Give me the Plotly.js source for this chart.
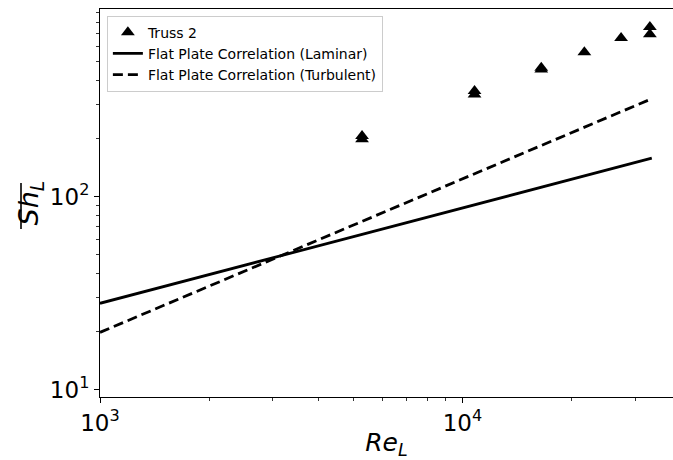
<!DOCTYPE html>
<html>
<head>
<meta charset="utf-8">
<script src="https://cdn.plot.ly/plotly-3.0.1.min.js"></script>
<style>
html,body{margin:0;padding:0;background:#fff;}
#chart{width:673px;height:460px;}
</style>
</head>
<body>
<div id="chart"></div>
<script>
// Truss 2 measurements
const reTruss = [5285, 5285, 10800, 10800, 16500, 16500, 21700, 27400, 32900, 32900];
const shTruss = [206, 198, 352, 338, 464, 455, 559, 661, 755, 692];

// Flat plate correlation lines (end points, straight in log-log)
const reLine = [1000, 33300];
const shLaminar = [28.0, 158];
const shTurbulent = [19.8, 321];

// Axis ticks
const xMajor = [1000, 10000];
const xMajorText = ['10<sup>3</sup>', '10<sup>4</sup>'];
const xMinor = [2000, 3000, 4000, 5000, 6000, 7000, 8000, 9000, 20000, 30000];
const yMajor = [10, 100];
const yMajorText = ['10<sup>1</sup>', '10<sup>2</sup>'];
const yMinor = [20, 30, 40, 50, 60, 70, 80, 90, 200, 300, 400, 500, 600, 700, 800, 900];

const font = 'DejaVu Sans, sans-serif';

const traces = [
  {
    x: reTruss, y: shTruss, type: 'scatter', mode: 'markers', name: 'Truss 2',
    marker: {symbol: 'triangle-up', size: 12, color: '#000'}
  },
  {
    x: reLine, y: shLaminar, type: 'scatter', mode: 'lines',
    name: 'Flat Plate Correlation (Laminar)',
    line: {color: '#000', width: 2.8}
  },
  {
    x: reLine, y: shTurbulent, type: 'scatter', mode: 'lines',
    name: 'Flat Plate Correlation (Turbulent)',
    line: {color: '#000', width: 2.8, dash: '10px,5px'}
  }
];

// plot area: left 100px, width 573px; top 9px, height 388px
const px2paperX = px => (px - 100) / 573;
const px2paperY = py => (397 - py) / 388;

const layout = {
  width: 673, height: 460,
  margin: {l: 100, r: 0, t: 9, b: 63},
  paper_bgcolor: '#fff', plot_bgcolor: '#fff',
  showlegend: true,
  font: {family: font, color: '#000'},
  legend: {
    x: 0.012, y: 0.983, xanchor: 'left', yanchor: 'top',
    bgcolor: 'rgba(255,255,255,0.8)', bordercolor: '#cccccc', borderwidth: 1,
    font: {family: font, size: 14, color: '#000'},
    tracegroupgap: 0, itemwidth: 30
  },
  xaxis: {
    type: 'log', range: [3, 4.581],
    tickmode: 'array', tickvals: xMajor, ticktext: xMajorText,
    ticks: 'outside', ticklen: 5, tickwidth: 1, tickcolor: '#000',
    minor: {tickmode: 'array', tickvals: xMinor, ticks: 'outside', ticklen: 3, tickwidth: 0.8, tickcolor: '#000', showgrid: false},
    showgrid: false, zeroline: false,
    showline: true, linecolor: '#000', linewidth: 1, mirror: true,
    tickfont: {family: font, size: 23, color: '#000'},
    title: {text: '<i>Re</i><sub><i>L</i></sub>', font: {family: font, size: 25, color: '#000'}, standoff: 4},
    automargin: false
  },
  yaxis: {
    type: 'log', range: [0.962, 2.971],
    tickmode: 'array', tickvals: yMajor, ticktext: yMajorText,
    ticks: 'outside', ticklen: 5, tickwidth: 1, tickcolor: '#000',
    minor: {tickmode: 'array', tickvals: yMinor, ticks: 'outside', ticklen: 3, tickwidth: 0.8, tickcolor: '#000', showgrid: false},
    showgrid: false, zeroline: false,
    showline: true, linecolor: '#000', linewidth: 1, mirror: false,
    tickfont: {family: font, size: 23, color: '#000'},
    title: {text: '<i>Sh</i><sub><i>L</i></sub>', font: {family: font, size: 27, color: '#000'}, standoff: 3},
    automargin: false
  },
  shapes: [
    // overline of the y-axis title (rotated, so it is a vertical stroke)
    {type: 'line', xref: 'paper', yref: 'paper', layer: 'above',
     x0: px2paperX(21), x1: px2paperX(21), y0: px2paperY(183), y1: px2paperY(229),
     line: {color: '#000', width: 1.6}}
  ]
};

Plotly.newPlot('chart', traces, layout, {displayModeBar: false, staticPlot: true});
</script>
</body>
</html>
